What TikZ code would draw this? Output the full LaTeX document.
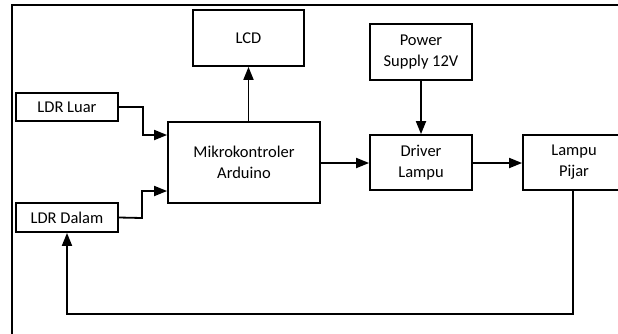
\documentclass[tikz,border=0pt]{standalone}
\usepackage{fontspec}
\setmainfont{Carlito}
\usetikzlibrary{arrows.meta}
\begin{document}
\begin{tikzpicture}[x=1pt,y=-1pt,
  blk/.style={draw=black,line width=1.8pt,fill=white,inner sep=0pt,font=\fontsize{16.5}{20}\selectfont,align=center},
  conn/.style={line width=1.8pt,-{Triangle[length=13pt,width=10pt]}}]
\useasboundingbox (0,0) rectangle (618,333);
\clip (0,0) rectangle (618,333);
\draw[line width=2.4pt] (12,345) -- (12,5) -- (640,5);
\node[blk,minimum width=111pt,minimum height=56pt] (lcd) at (248.5,38) {LCD};
\node[blk,minimum width=102pt,minimum height=28pt] (luar) at (67,107) {LDR Luar};
\node[blk,minimum width=102pt,minimum height=29pt] (dalam) at (67,217.5) {LDR Dalam};
\node[blk,minimum width=152pt,minimum height=81pt] (mikro) at (244,162.5) {Mikrokontroler\\[1pt]Arduino};
\node[blk,minimum width=102pt,minimum height=56pt] (ps) at (421,52) {Power\\[1pt]Supply 12V};
\node[blk,minimum width=102pt,minimum height=55pt] (drv) at (421,162.5) {Driver\\[1pt]Lampu};
\node[blk,minimum width=102pt,minimum height=55pt] (lamp) at (574,162.5) {Lampu\\[1pt]Pijar};
\coordinate (fb1) at (573,314);
\coordinate (fb2) at (67,314);
\draw[conn] (luar.east) -- (143,107) -- (143,135) -- (mikro.west |- 0,135);
\draw[conn] (dalam.east) -- (142,218) -- (142,191) -- (mikro.west |- 0,191);
\draw[conn] (mikro.north -| lcd.south) -- (lcd.south);
\draw[conn] (ps.south) -- (drv.north);
\draw[conn] (mikro.east |- 0,163) -- (drv.west |- 0,163);
\draw[conn] (drv.east |- 0,163) -- (lamp.west |- 0,163);
\draw[conn] (lamp.south -| fb1) -- (fb1) -- (fb2) -- (dalam.south);
\end{tikzpicture}
\end{document}
